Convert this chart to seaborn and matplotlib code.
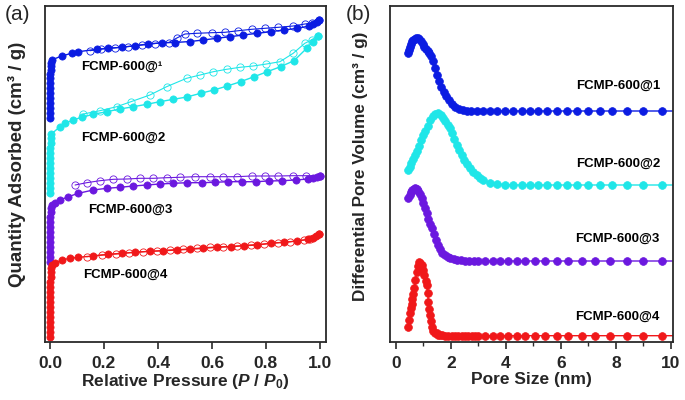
"""FCMP-600 series: N2 isotherms (a) and pore size distributions (b)."""

import matplotlib
matplotlib.use("Agg")
import matplotlib.pyplot as plt
import seaborn as sns

sns.set_style("ticks")
plt.rcParams["font.family"] = ["Liberation Sans", "DejaVu Sans"]
plt.rcParams["font.weight"] = "bold"
plt.rcParams["mathtext.fontset"] = "custom"
plt.rcParams["mathtext.rm"] = "Liberation Sans:bold"
plt.rcParams["mathtext.it"] = "Liberation Sans:bold:italic"
plt.rcParams["mathtext.bf"] = "Liberation Sans:bold"

SAMPLES = ["FCMP-600@1", "FCMP-600@2", "FCMP-600@3", "FCMP-600@4"]
ISO_LABELS = ["FCMP-600@\u00b9", "FCMP-600@2", "FCMP-600@3", "FCMP-600@4"]
COLORS = ["#0B1CE2", "#1FE6E8", "#6B18DF", "#F0181A"]

# ── (a) isotherms: relative pressure vs quantity adsorbed (stacked, a.u.) ──
ads_p1 = [0, 0, 0, 0, 0, 0, 0, 0.001, 0.001, 0.001, 0.002, 0.002, 0.003, 0.006,
          0.043, 0.080, 0.105, 0.173, 0.216, 0.265, 0.315, 0.364, 0.414, 0.463,
          0.519, 0.568, 0.617, 0.667, 0.716, 0.768, 0.817, 0.867, 0.916, 0.960,
          0.975, 0.988, 0.998]
ads_q1 = [224, 229, 234, 239, 244, 249, 254, 259, 264, 268, 272, 276, 279, 282,
          286, 288.7, 290.3, 292.7, 293.7, 294.7, 296.3, 298, 299.3, 299.5,
          300.5, 302, 303.7, 305.3, 307, 308.7, 310.3, 312, 313.7, 316,
          318, 320.3, 322]
des_p1 = [0.998, 0.970, 0.944, 0.901, 0.846, 0.796, 0.747, 0.698, 0.648, 0.599,
          0.543, 0.500, 0.470, 0.440, 0.390, 0.340, 0.290, 0.240, 0.190, 0.148]
des_q1 = [322, 319, 318, 316, 314.7, 313.7, 312.7, 311.3, 309.7, 309.3,
          308.7, 308, 304, 299.5, 298.5, 297, 295.5, 294.2, 293, 291.3]

ads_p2 = [0, 0, 0, 0, 0, 0, 0, 0, 0.001, 0.001, 0.002, 0.003, 0.005,
          0.037, 0.056, 0.086, 0.117, 0.160, 0.210, 0.259, 0.309, 0.358, 0.407,
          0.457, 0.507, 0.558, 0.607, 0.657, 0.706, 0.756, 0.805, 0.854, 0.904,
          0.951, 0.973, 0.994]
ads_q2 = [149, 154, 159, 164, 169, 174, 179, 184, 189, 194, 199, 204, 208,
          215.3, 218.7, 222, 224.7, 227.7, 230.3, 233, 235.3, 237.7, 240.3,
          242.7, 245, 248.7, 252, 256, 260.3, 265.3, 270.3, 275.3, 281.3,
          293.7, 300.3, 306]
des_p2 = [0.994, 0.969, 0.944, 0.901, 0.852, 0.802, 0.753, 0.704, 0.654, 0.605,
          0.556, 0.506, 0.432, 0.370, 0.300, 0.247, 0.185, 0.123]
des_q2 = [306, 302, 298.7, 288.7, 280.3, 278, 276, 274.7, 272.7, 270.3,
          267, 263.7, 255.3, 247, 240.3, 235.3, 231.3, 228]

ads_p3 = [0, 0, 0, 0, 0, 0, 0, 0, 0.001, 0.001, 0.002, 0.003, 0.006,
          0.019, 0.037, 0.068, 0.105, 0.160, 0.210, 0.259, 0.309, 0.358, 0.407,
          0.457, 0.509, 0.562, 0.610, 0.660, 0.710, 0.762, 0.810, 0.860, 0.910,
          0.956, 0.975, 0.988, 1.0]
ads_q3 = [80, 85, 90, 95, 100, 105, 110, 115, 120, 125, 130, 134, 137,
          138.7, 142, 145.3, 148.7, 152, 153.7, 154.7, 156, 157, 158,
          158.7, 159.3, 159.3, 159.7, 160.3, 160.3, 160.3, 161, 161.3, 162,
          163, 164.3, 165.3, 166.3]
des_p3 = [1.0, 0.948, 0.901, 0.846, 0.796, 0.747, 0.691, 0.642, 0.593, 0.537,
          0.481, 0.432, 0.383, 0.333, 0.286, 0.235, 0.185, 0.136, 0.093]
des_q3 = [166.3, 166.3, 166.3, 166, 166, 166, 165.3, 165.3, 165.3, 165.3,
          164.7, 164.3, 163.7, 163.7, 163, 162.7, 161.3, 159.3, 157]

ads_p4 = [0, 0, 0, 0, 0, 0, 0, 0, 0, 0, 0.001, 0.001, 0.002, 0.003, 0.005, 0.008,
          0.019, 0.043, 0.074, 0.105, 0.160, 0.216, 0.265, 0.315, 0.370, 0.420,
          0.469, 0.519, 0.568, 0.617, 0.669, 0.719, 0.768, 0.817, 0.867, 0.916,
          0.957, 0.973, 0.985, 0.998]
ads_q4 = [5, 10, 15, 20, 25, 30, 35, 40, 45, 50, 55, 60, 65, 70, 74, 77,
          78.7, 82, 83.7, 84.7, 86, 87.7, 88.7, 89.7, 90.7, 91.3,
          92, 92.7, 93.7, 94.7, 95.3, 96.3, 97, 98.7, 99.7, 101,
          102.7, 104.3, 106, 108]
des_p4 = [0.998, 0.965, 0.940, 0.891, 0.843, 0.793, 0.743, 0.694, 0.642, 0.593,
          0.543, 0.494, 0.444, 0.395, 0.343, 0.294, 0.244, 0.191, 0.136]
des_q4 = [108, 103.3, 102, 100.3, 99.3, 98, 97, 96, 95.3, 94.7,
          93.7, 92.7, 92, 91, 90.3, 89.3, 88, 87, 85.3]

ADS_P = [ads_p1, ads_p2, ads_p3, ads_p4]
ADS_Q = [ads_q1, ads_q2, ads_q3, ads_q4]
DES_P = [des_p1, des_p2, des_p3, des_p4]
DES_Q = [des_q1, des_q2, des_q3, des_q4]

# ── (b) pore size distributions (stacked, a.u.) ──
psd_x1 = [0.45, 0.48, 0.51, 0.55, 0.59, 0.63, 0.68, 0.73, 0.79, 0.85, 0.91, 0.97,
          1.03, 1.09, 1.15, 1.21, 1.27, 1.34, 1.41, 1.48, 1.56, 1.64, 1.73, 1.82,
          1.92, 2.03, 2.15, 2.28, 2.42, 2.57, 2.73, 2.93, 3.18, 3.42, 3.66, 3.96,
          4.27, 4.57, 4.87, 5.18, 5.48, 5.84, 6.21, 6.57, 6.99, 7.42, 7.84, 8.39,
          9.0, 9.66, 10.3]
psd_y1 = [288.7, 292, 295.3, 298.5, 300.7, 302, 303.2, 303.7, 303.7, 302.8, 301, 298.5,
          295.5, 293, 291, 289, 286, 281, 274, 267, 261, 255, 250, 246,
          242, 238, 235, 233, 232, 231.5, 231.2, 231, 231, 231, 231, 231,
          231, 231, 231, 231, 231, 231, 231, 231, 231, 231, 231, 231,
          231, 231, 231]

psd_x2 = [0.45, 0.50, 0.56, 0.62, 0.69, 0.76, 0.83, 0.91, 0.99, 1.07, 1.15, 1.24,
          1.33, 1.43, 1.54, 1.63, 1.72, 1.80, 1.88, 1.96, 2.04, 2.12, 2.21, 2.30,
          2.39, 2.48, 2.58, 2.69, 2.80, 2.93, 3.06, 3.18, 3.42, 3.66, 3.96,
          4.27, 4.57, 4.87, 5.18, 5.48, 5.84, 6.21, 6.57, 6.99, 7.42, 7.84, 8.39,
          9.0, 9.66, 10.3]
psd_y2 = [172, 175, 179, 183, 187, 191.5, 196.5, 202, 207, 211.5, 216, 222,
          226, 228, 228.7, 227, 224.5, 221, 217.5, 214, 209.5, 203.5, 197, 192,
          187, 182.5, 178, 173.7, 170, 167, 164, 162, 159.5, 158, 157.5,
          157, 157, 157, 157, 157, 157, 157, 157, 157, 157, 157, 157,
          157, 157, 157]

psd_x3 = [0.45, 0.50, 0.55, 0.60, 0.65, 0.70, 0.75, 0.81, 0.87, 0.93, 0.99, 1.05,
          1.12, 1.18, 1.24, 1.30, 1.37, 1.44, 1.52, 1.60, 1.69, 1.78, 1.88, 1.98,
          2.10, 2.22, 2.36, 2.50, 2.66, 2.82, 2.99, 3.24, 3.54, 3.78, 4.08,
          4.39, 4.69, 5.05, 5.42, 5.84, 6.27, 6.75, 7.24, 7.78, 8.39,
          9.0, 9.66, 10.3]
psd_y3 = [143.7, 147, 150, 152, 153.5, 153.7, 153, 151, 148, 143.7, 139.5, 134.5,
          128.7, 123.5, 118.5, 113.7, 108, 102.5, 97, 93, 89.5, 87, 85, 83.8,
          83, 82.2, 81.7, 81.3, 81, 81, 81, 81, 81, 81, 81,
          81, 81, 81, 81, 81, 81, 81, 81, 81, 81,
          81, 81, 81]

psd_x4 = [0.45, 0.48, 0.51, 0.54, 0.57, 0.60, 0.63, 0.67, 0.71, 0.75, 0.79, 0.84,
          0.88, 0.93, 0.98, 1.03, 1.08, 1.12, 1.15, 1.18, 1.21, 1.24, 1.27, 1.30,
          1.36, 1.42, 1.48, 1.54, 1.60, 1.66, 1.78, 1.90, 2.03, 2.15, 2.27, 2.39,
          2.51, 2.63, 2.75, 2.87, 2.99, 3.24, 3.54, 3.78, 4.08, 4.39, 4.69, 5.05,
          5.42, 5.84, 6.27, 6.75, 7.24, 7.78, 8.39, 9.0, 9.66, 10.3]
psd_y4 = [15.3, 22, 29, 34, 38, 43, 48, 54, 62, 70.3, 76, 79.7,
          79, 77, 72, 67, 61, 57, 49, 40.3, 33, 27, 21, 15.3,
          11, 9.5, 8.7, 7.5, 7, 6.8, 6.5, 6.3, 6.3, 6.3, 6.3, 6.3,
          6.3, 6.3, 6.3, 6.3, 6.3, 6.3, 6.3, 6.3, 6.3, 6.3, 6.3, 6.3,
          6.3, 6.3, 6.3, 6.3, 6.3, 6.3, 6.3, 6.3, 6.3, 6.3]

PSD_X = [psd_x1, psd_x2, psd_x3, psd_x4]
PSD_Y = [psd_y1, psd_y2, psd_y3, psd_y4]

# label anchors (data coords)
ISO_TXT = [(0.117, 275), (0.114, 204), (0.142, 132), (0.123, 67)]
PSD_TXT = [(9.62, 256), (9.6, 178.7), (9.6, 103.7), (9.6, 25.3)]


def style_axis(ax):
    for sp in ax.spines.values():
        sp.set_linewidth(1.3)
        sp.set_color("#2a2a2a")
    ax.set_yticks([])
    ax.tick_params(axis="x", which="major", direction="out", length=5, width=1.2,
                   labelsize=12.5, pad=5, color="#2a2a2a")
    ax.tick_params(axis="x", which="minor", direction="out", length=3, width=1.0,
                   color="#2a2a2a")
    for lab in ax.get_xticklabels():
        lab.set_fontweight("bold")


fig = plt.figure(figsize=(6.85, 4.0), dpi=100)
ax1 = fig.add_axes([0.0657, 0.145, 0.410, 0.84])
ax2 = fig.add_axes([0.5693, 0.145, 0.413, 0.84])

# isotherms
for i in range(4):
    c = COLORS[i]
    sns.lineplot(x=ADS_P[i], y=ADS_Q[i], ax=ax1, sort=False, estimator=None,
                 color=c, lw=1.0, marker="o", markersize=5.2,
                 markerfacecolor=c, markeredgecolor=c, markeredgewidth=0.5)
    sns.lineplot(x=DES_P[i], y=DES_Q[i], ax=ax1, sort=False, estimator=None,
                 color=c, lw=0.8, marker="o", markersize=5.2,
                 markerfacecolor="none", markeredgecolor=c, markeredgewidth=0.6)
    ax1.text(ISO_TXT[i][0], ISO_TXT[i][1], ISO_LABELS[i], fontsize=9.5,
             fontweight="bold", ha="left", va="center", color="black")

ax1.set_xlim(-0.0185, 1.022)
ax1.set_ylim(0, 336)
ax1.set_xticks([0.0, 0.2, 0.4, 0.6, 0.8, 1.0])
ax1.set_xticklabels(["0.0", "0.2", "0.4", "0.6", "0.8", "1.0"])
style_axis(ax1)
ax1.set_xlabel(r"Relative Pressure ($P$ / $P_{\mathit{0}}$)", fontsize=12.5,
               fontweight="bold", labelpad=1)
ax1.set_ylabel("")

# pore size distributions
for i in range(4):
    c = COLORS[i]
    sns.lineplot(x=PSD_X[i], y=PSD_Y[i], ax=ax2, sort=False, estimator=None,
                 color=c, lw=1.0, marker="o", markersize=5.6,
                 markerfacecolor=c, markeredgecolor=c, markeredgewidth=0.5)
    ax2.text(PSD_TXT[i][0], PSD_TXT[i][1], SAMPLES[i], fontsize=9.5,
             fontweight="bold", ha="right", va="center", color="black")

ax2.set_xlim(-0.218, 10.07)
ax2.set_ylim(0, 336)
ax2.set_xticks([0, 2, 4, 6, 8, 10])
ax2.set_xticks([1, 3, 5, 7, 9], minor=True)
style_axis(ax2)
ax2.set_xlabel("Pore Size (nm)", fontsize=12.5, fontweight="bold", labelpad=1)
ax2.set_ylabel("")

fig.text(17 / 685, 1 - 164 / 400, "Quantity Adsorbed (cm\u00b3 / g)", rotation=90,
         ha="center", va="center", fontsize=13.5, fontweight="bold")
fig.text(361 / 685, 1 - 166 / 400, "Differential Pore Volume (cm\u00b3 / g)", rotation=90,
         ha="center", va="center", fontsize=12.3, fontweight="bold")
fig.text(5 / 685, 1 - 15 / 400, "(a)", fontsize=15, fontweight="normal",
         ha="left", va="center")
fig.text(346 / 685, 1 - 15 / 400, "(b)", fontsize=15, fontweight="normal",
         ha="left", va="center")

fig.savefig("out.png", dpi=100)
plt.close(fig)
